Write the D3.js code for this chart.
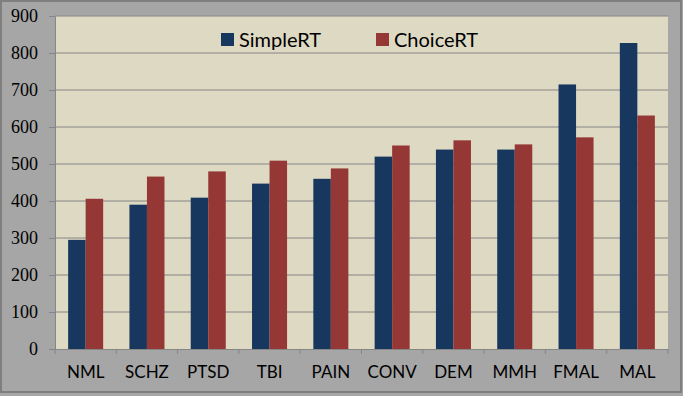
<!DOCTYPE html>
<html>
<head>
<meta charset="utf-8">
<script src="https://cdn.jsdelivr.net/npm/d3@7"></script>
<style>
  body { margin: 0; background: #fff; }
  text { font-family: Lato, "Open Sans", sans-serif; fill: #000; }
</style>
</head>
<body>
<div id="chart"></div>
<script>
const categories = ["NML", "SCHZ", "PTSD", "TBI", "PAIN", "CONV", "DEM", "MMH", "FMAL", "MAL"];
const seriesNames = ["SimpleRT", "ChoiceRT"];
const simpleRT = [295, 390, 409, 447, 460, 520, 539, 539, 715, 827];
const choiceRT = [406, 466, 480, 509, 488, 550, 564, 553, 572, 631];
const yTicks = [0, 100, 200, 300, 400, 500, 600, 700, 800, 900];

const colors = { SimpleRT: "#17375e", ChoiceRT: "#953735" };

const W = 683, H = 396;
const margin = { top: 16, right: 15, bottom: 47, left: 55 };
const width = W - margin.left - margin.right;
const height = H - margin.top - margin.bottom;

const svg = d3.select("#chart").append("svg")
  .attr("width", W).attr("height", H);

// outer chart frame
svg.append("rect").attr("x", 0).attr("y", 0).attr("width", W).attr("height", H)
  .attr("fill", "#a6a6a6");
svg.append("rect").attr("x", 1).attr("y", 1).attr("width", W - 3).attr("height", H - 5)
  .attr("fill", "none").attr("stroke", "#7f7f7f").attr("stroke-width", 2);

const g = svg.append("g").attr("transform", `translate(${margin.left},${margin.top})`);

const x0 = d3.scaleBand().domain(categories).range([0, width]).padding(0);
const x1 = d3.scaleBand().domain(seriesNames).range([0, x0.bandwidth()])
  .paddingInner(0).paddingOuter(0.75);
const y = d3.scaleLinear().domain([0, 900]).range([height, 0]);

// plot area
g.append("rect").attr("width", width).attr("height", height).attr("fill", "#ddd9c3");

// gridlines
g.selectAll(".grid").data(yTicks.filter(d => d > 0)).enter().append("line")
  .attr("x1", 0).attr("x2", width)
  .attr("y1", d => y(d)).attr("y2", d => y(d))
  .attr("stroke", "#868686").attr("stroke-width", 1);

// bars
const rows = categories.map((c, i) => ({ cat: c, SimpleRT: simpleRT[i], ChoiceRT: choiceRT[i] }));
const grp = g.selectAll(".grp").data(rows).enter().append("g")
  .attr("transform", d => `translate(${x0(d.cat)},0)`);
grp.selectAll("rect").data(d => seriesNames.map(s => ({ s, v: d[s] }))).enter().append("rect")
  .attr("x", d => x1(d.s))
  .attr("width", x1.bandwidth())
  .attr("y", d => y(d.v))
  .attr("height", d => height - y(d.v))
  .attr("fill", d => colors[d.s]);

// y axis
const yAxis = g.append("g")
  .call(d3.axisLeft(y).tickValues(yTicks).tickSize(6).tickPadding(11));
yAxis.select(".domain").attr("stroke", "#868686");
yAxis.selectAll(".tick line").attr("stroke", "#868686");
yAxis.selectAll(".tick text").style("font-size", "18px").style("font-family", "'Liberation Serif', serif")
  .attr("fill", "#000");

// x axis
const xAxis = g.append("g").attr("transform", `translate(0,${height})`)
  .call(d3.axisBottom(x0).tickSize(0).tickPadding(17));
xAxis.select(".domain").attr("stroke", "#868686");
xAxis.selectAll(".tick text").style("font-size", "17px").attr("fill", "#000");
g.append("g").selectAll("line").data(d3.range(categories.length + 1)).enter().append("line")
  .attr("x1", i => i * x0.step()).attr("x2", i => i * x0.step())
  .attr("y1", height).attr("y2", height + 5)
  .attr("stroke", "#868686");

// legend
const legendX = [221 - margin.left, 376 - margin.left];
const leg = g.selectAll(".leg").data(seriesNames).enter().append("g")
  .attr("transform", (d, i) => `translate(${legendX[i]},${33 - margin.top})`);
leg.append("rect").attr("width", 13).attr("height", 13).attr("fill", d => colors[d]);
leg.append("text").attr("x", 18).attr("y", 13.5).style("font-size", "20px").text(d => d);
</script>
</body>
</html>
